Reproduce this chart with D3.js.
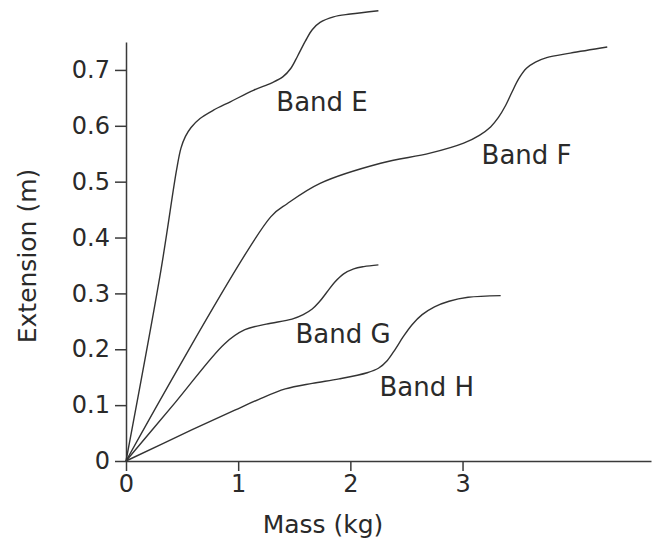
<!DOCTYPE html>
<html>
<head>
	<meta charset="utf-8">
	<title>Extension vs mass</title>
	<style>
		body {
			margin: 0;
			background: #fff;
			font-family: "DejaVu Sans", "Liberation Sans", Arial, sans-serif;
		}
		.axis path, .axis line {
			stroke: #3a3a3a;
			stroke-width: 1.5;
		}
		.axis text {
			font-family: "DejaVu Sans", "Liberation Sans", Arial, sans-serif;
			font-size: 24px;
			fill: #2a2a2a;
		}
		.band {
			fill: none;
			stroke: #333;
			stroke-width: 1.4;
		}
		.label {
			font-size: 26px;
			fill: #2a2a2a;
		}
		.title {
			font-size: 25px;
			fill: #2a2a2a;
		}
	</style>
</head>
<body>
	<div id="drawing"></div>

	<script src="https://cdnjs.cloudflare.com/ajax/libs/d3/7.8.5/d3.min.js"></script>
	<script>
	// Data: [mass (kg), extension (m)]
	var bandE = [[0,0],[0.31,0.34],[0.45,0.52],[0.49,0.56],[0.53,0.581],[0.58,0.597],[0.66,0.613],
		[0.78,0.628],[0.93,0.643],[1.14,0.664],[1.30,0.677],[1.40,0.688],[1.47,0.703],[1.53,0.725],
		[1.60,0.752],[1.66,0.772],[1.73,0.785],[1.85,0.795],[2.0,0.8],[2.25,0.806]]
	var bandF = [[0,0],[1.29,0.437],[1.44,0.461],[1.73,0.497],[2.27,0.533],[2.71,0.551],
		[3.01,0.569],[3.15,0.583],[3.25,0.598],[3.32,0.615],[3.38,0.635],[3.44,0.660],[3.50,0.684],
		[3.57,0.703],[3.65,0.714],[3.75,0.722],[3.96,0.730],[4.29,0.741]]
	var bandG = [[0,0],[0.44,0.105],[0.88,0.21],[1.06,0.235],[1.25,0.245],[1.48,0.254],[1.58,0.262],
		[1.66,0.272],[1.72,0.284],[1.79,0.302],[1.86,0.320],[1.94,0.335],[2.03,0.344],[2.12,0.348],[2.25,0.351]]
	var bandH = [[0,0],[0.59,0.056],[0.97,0.091],[1.18,0.11],[1.42,0.129],[1.66,0.139],[1.9,0.147],
		[2.15,0.158],[2.25,0.166],[2.33,0.18],[2.40,0.2],[2.47,0.222],[2.55,0.244],[2.64,0.262],
		[2.75,0.276],[2.88,0.286],[3.05,0.293],[3.34,0.296]]

	var bandNames  = ["Band E", "Band F", "Band G", "Band H"]
	// label anchor points, in data units (left end of text, baseline)
	var labelSpots = [[1.34, 0.627], [3.17, 0.531], [1.51, 0.211], [2.26, 0.117]]

	var xTicks = [0, 1, 2, 3]
	var yTicks = [0, 0.1, 0.2, 0.3, 0.4, 0.5, 0.6, 0.7]

	// Canvas
	var width = 653, height = 542

	var svg = d3.select("#drawing").append("svg")
		.attr("width", width)
		.attr("height", height)

	var x = d3.scaleLinear().domain([0, 4.68]).range([126, 651])
	var y = d3.scaleLinear().domain([0, 0.75]).range([461, 42])

	// Axes
	svg.append("g")
		.attr("class", "axis")
		.attr("transform", "translate(0," + y(0) + ")")
		.call(d3.axisBottom(x).tickValues(xTicks).tickFormat(d3.format("d"))
			.tickSize(10).tickSizeOuter(0).tickPadding(4))

	svg.append("g")
		.attr("class", "axis")
		.attr("transform", "translate(" + x(0) + ",0)")
		.call(d3.axisLeft(y).tickValues(yTicks).tickFormat(function(d){ return d === 0 ? "0" : d3.format(".1f")(d) })
			.tickSize(11).tickSizeOuter(0).tickPadding(5))

	// Axis titles
	svg.append("text")
		.attr("class", "title")
		.attr("text-anchor", "middle")
		.attr("x", 323)
		.attr("y", 533)
		.text("Mass (kg)")

	svg.append("text")
		.attr("class", "title")
		.attr("text-anchor", "middle")
		.attr("transform", "translate(36,256) rotate(-90)")
		.text("Extension (m)")

	// Curves
	var line = d3.line()
		.x(function(d){ return x(d[0]) })
		.y(function(d){ return y(d[1]) })
		.curve(d3.curveCatmullRom.alpha(0.5))

	svg.selectAll(".band")
		.data([bandE, bandF, bandG, bandH])
		.enter().append("path")
		.attr("class", "band")
		.attr("d", line)

	// Band labels
	svg.selectAll(".bandlabel")
		.data(bandNames)
		.enter().append("text")
		.attr("class", "label bandlabel")
		.attr("x", function(d, i){ return x(labelSpots[i][0]) })
		.attr("y", function(d, i){ return y(labelSpots[i][1]) })
		.text(function(d){ return d })
	</script>
</body>
</html>
